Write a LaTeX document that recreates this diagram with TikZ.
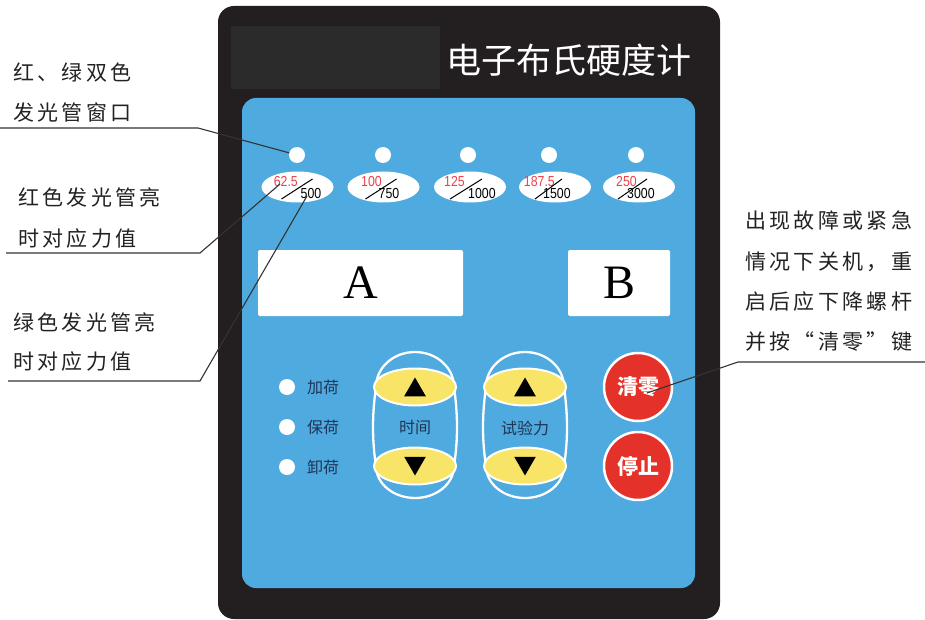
\documentclass[tikz,border=0pt]{standalone}
\usepackage{fontspec}
\usetikzlibrary{shapes.geometric,calc}
\setmainfont{Liberation Serif}
\newfontfamily\cjk{Noto Sans CJK SC}
\newfontfamily\cjkann[LetterSpace=16]{Noto Sans CJK SC}
\newfontfamily\numfont[FakeStretch=0.85]{Liberation Sans}
\definecolor{panelblack}{HTML}{231F20}
\definecolor{topgray}{HTML}{2B2B2B}
\definecolor{panelblue}{HTML}{4EAADF}
\definecolor{keyyellow}{HTML}{F8E466}
\definecolor{keyred}{HTML}{E4322B}
\definecolor{navytext}{HTML}{1F3556}
\definecolor{numred}{HTML}{E8434B}
\definecolor{annotext}{HTML}{222222}
\definecolor{leadergray}{HTML}{333333}
\begin{document}
\begin{tikzpicture}[x=1pt,y=-1pt,
  ann/.style={font=\cjkann\fontsize{21}{21}\selectfont, text=annotext, anchor=west, inner sep=0},
  led/.style={circle, fill=white, minimum size=16pt, inner sep=0},
  scalebox/.style={ellipse, fill=white, minimum width=72pt, minimum height=31pt, inner sep=0},
  nred/.style={font=\numfont\fontsize{14.5}{14.5}\selectfont, text=numred, inner sep=0, anchor=east},
  nblack/.style={font=\numfont\fontsize{14.5}{14.5}\selectfont, text=black, inner sep=0, anchor=west},
  yellowkey/.style={ellipse, fill=keyyellow, draw=white, line width=2pt, minimum width=82pt, minimum height=37pt, inner sep=0},
  tri/.style={regular polygon, regular polygon sides=3, fill=black, minimum size=25pt, inner sep=0},
  redkey/.style={circle, fill=keyred, draw=white, line width=2.5pt, minimum size=68pt, inner sep=0, text=white, font=\cjk\bfseries\fontsize{21}{21}\selectfont},
  navylabel/.style={font=\cjk\fontsize{16}{16}\selectfont, text=navytext, inner sep=0},
  leader/.style={draw=leadergray, line width=1.1pt},
  outline/.style={draw=white, line width=2.3pt},
  display/.style={fill=white, rounded corners=2pt, minimum height=66pt, inner sep=0, font=\fontsize{48}{48}\selectfont}
]
\useasboundingbox (0,0) rectangle (925,620);
% panel
\fill[panelblack, rounded corners=16pt] (218,6) rectangle (720,619);
\fill[topgray] (231,26) rectangle (440,89);
\node[text=white, inner sep=0, font=\cjk\fontsize{35}{35}\selectfont] (title) at (569,60) {电子布氏硬度计};
\fill[panelblue, rounded corners=14pt] (242,98) rectangle (695,588);

% LEDs and scale ellipses
\foreach \i/\lx/\ex/\r/\b/\re/\bw/\ll/\lr in {
  1/297/297.5/62.5/500/0.5/3/-16/15,
  2/383/383.5/100/750/-1.5/-5/-18/13,
  3/468/470/125/1000/-5/-2/-20/12,
  4/549/555/187.5/1500/0/-12/-20/7,
  5/636/639/250/3000/-2/-12/-21/8}{
  \node[led] (led\i) at (\lx,155) {};
  \node[scalebox] (sc\i) at (\ex,187) {};
  \node[nred] (r\i) at ($(sc\i)+(\re,-5)$) {\r};
  \node[nblack] (b\i) at ($(sc\i)+(\bw,7)$) {\b};
  \draw[black, line width=1pt] ($(sc\i)+(\ll,12)$) -- ($(sc\i)+(\lr,-8)$);
}

% displays
\node[display, minimum width=205pt] (dispA) at (360.5,283) {A};
\node[display, minimum width=102pt] (dispB) at (619,283) {B};

% load state LEDs
\node[led] (ledl1) at (287,387) {};
\node[led] (ledl2) at (287,427) {};
\node[led] (ledl3) at (287,467) {};
\node[navylabel, anchor=west] (lab1) at (307,387) {加荷};
\node[navylabel, anchor=west] (lab2) at (307,427) {保荷};
\node[navylabel, anchor=west] (lab3) at (307,467) {卸荷};

% time group
\draw[outline] (376,387) arc[start angle=180, end angle=360, x radius=39, y radius=35] .. controls (458,415) and (458,440) .. (454,466) arc[start angle=0, end angle=180, x radius=39, y radius=32] .. controls (372,440) and (372,415) .. cycle;
\node[yellowkey] (tup) at (415,387) {};
\node[yellowkey] (tdn) at (415,466) {};
\node[tri] (tupt) at ($(tup)+(0,3)$) {};
\node[tri, shape border rotate=180] (tdnt) at ($(tdn)+(0,-3)$) {};
\node[navylabel] (timelab) at (415,427) {时间};

% force group
\draw[outline] (486,387) arc[start angle=180, end angle=360, x radius=39, y radius=35] .. controls (568,415) and (568,440) .. (564,466) arc[start angle=0, end angle=180, x radius=39, y radius=32] .. controls (482,440) and (482,415) .. cycle;
\node[yellowkey] (fup) at (525,387) {};
\node[yellowkey] (fdn) at (525,466) {};
\node[tri] (fupt) at ($(fup)+(0,3)$) {};
\node[tri, shape border rotate=180] (fdnt) at ($(fdn)+(0,-3)$) {};
\node[navylabel] (forcelab) at (525,428) {试验力};

% red keys
\node[redkey] (zero) at (638,387) {清零};
\node[redkey] (stop) at (638,466) {停止};

% annotations left
\node[ann] (a1a) at (13,73) {红、绿双色};
\node[ann] (a1b) at (13,113) {发光管窗口};
\coordinate (u1l) at (0,128);
\coordinate (u1r) at (198,128);
\draw[leader] (u1l) -- (u1r) -- (led1);

\node[ann] (a2a) at (18,197) {红色发光管亮};
\node[ann] (a2b) at (18,239) {时对应力值};
\coordinate (u2l) at (6,253);
\coordinate (u2r) at (200,253);
\coordinate (u2e) at (280,184);
\draw[leader] (u2l) -- (u2r) -- (u2e);

\node[ann] (a3a) at (13,322) {绿色发光管亮};
\node[ann] (a3b) at (13,362) {时对应力值};
\coordinate (u3l) at (8,381);
\coordinate (u3r) at (200,381);
\coordinate (u3e) at (307,196);
\draw[leader] (u3l) -- (u3r) -- (u3e);

% annotation right
\node[ann] (r1) at (745,221) {出现故障或紧急};
\node[ann] (r2) at (745,262) {情况下关机，重};
\node[ann] (r3) at (745,302) {启后应下降螺杆};
\node[ann] (r4) at (745,342) {并按“清零”键};
\coordinate (u4r) at (925,362);
\coordinate (u4l) at (738,362);
\coordinate (u4e) at (647,393);
\draw[leader] (u4r) -- (u4l) -- (u4e);
\end{tikzpicture}
\end{document}
